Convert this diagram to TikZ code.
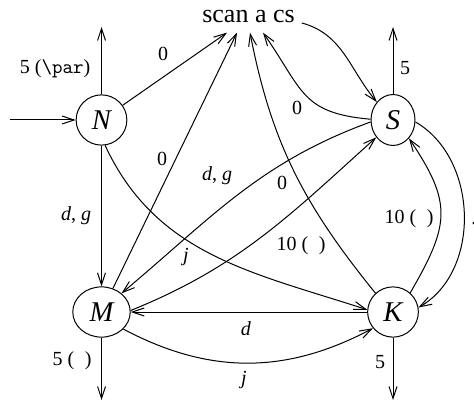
\documentclass[tikz,border=0pt]{standalone}
\usepackage{fontspec}
\setmainfont{Liberation Serif}
\usetikzlibrary{arrows.meta,shapes.geometric,calc}
\begin{document}
\begin{tikzpicture}[x=0.5pt,y=-0.5pt,
  every node/.style={font=\fontsize{10}{12}\selectfont},
  state/.style={ellipse,draw,line width=0.5pt,inner sep=4.2pt,font=\fontsize{14.3}{16}\selectfont\itshape},
  edge/.style={line width=0.5pt,-{Straight Barb[length=6pt,width=4pt]}},
  lbl/.style={inner sep=0pt}]
\useasboundingbox (0,0) rectangle (474,405);
% states
\node[state] (N) at (101.5,120) {N};
\node[state] (S) at (393,120) {S};
\node[state] (M) at (101.5,312) {M};
\node[state] (K) at (393,312) {K};
\node[font=\fontsize{13}{15}\selectfont, anchor=base, inner ysep=4.5pt] (scan) at (248.5,23) {scan a cs};
% free ends
\coordinate (in) at (10,120);
\coordinate (Ntop) at (101.5,27);
\coordinate (Stop) at (393,27);
\coordinate (Mbot) at (101.5,400);
\coordinate (Kbot) at (393,400);
% connectors
\draw[edge] (in) -- (N);
\draw[edge] (N) -- (Ntop);
\draw[edge] (N) -- ($(scan.south)+(-21.5,0)$);
\draw[edge] (N) -- (M);
\draw[edge] (N.-82) to[out=-65,in=162] (K.175);
\draw[edge] (M) -- ($(scan.south)+(-11.5,0)$);
\draw[edge] (S.185) to[out=200,in=40] (M.43);
\draw[edge] (M.3) to[out=22,in=222] (S.226);
\draw[edge] (K) -- (M);
\draw[edge] (M.-38) to[out=-28,in=208] (K.219);
\draw[edge] (M) -- (Mbot);
\draw[edge] (K) -- (Kbot);
\draw[edge] (S) -- (Stop);
\draw[edge] (scan.base east) to[out=-15,in=130] (S.132);
\draw[edge] (S.178) to[out=175,in=-55,looseness=1.3] ($(scan.south)+(14.5,0)$);
\draw[edge] (K.133) to[out=129,in=-79] ($(scan.south)+(1.5,0)$);
\draw[edge] (K.48) to[out=60,in=-56,looseness=1.3] (S.-49);
\draw[edge] (S.-5) to[out=-30,in=30] (K.10);
% labels
\node[lbl] (l1) at (55,69) {5 (\texttt{\textbackslash par})};
\node[lbl] (l2) at (163,54) {0};
\node[lbl] (l3) at (162,159) {0};
\node[lbl] (l4) at (217,176) {\textit{d}, \textit{g}};
\node[lbl] (l5) at (76,216) {\textit{d}, \textit{g}};
\node[lbl] (l6) at (186,257) {\textit{j}};
\node[lbl] (l7) at (72,361) {5 (\texttt{\ })};
\node[lbl] (l8) at (297,108) {0};
\node[lbl] (l9) at (282,183) {0};
\node[lbl] (l10) at (405,68) {5};
\node[lbl] (l11) at (301,246) {10 (\texttt{\ })};
\node[lbl] (l12) at (409,219) {10 (\texttt{\ })};
\node[lbl,anchor=base west] (l13) at (471,224.5) {.};
\node[lbl] (l14) at (246,329) {\textit{d}};
\node[lbl] (l15) at (244,380) {\textit{j}};
\node[lbl] (l16) at (380,362) {5};
\end{tikzpicture}
\end{document}
